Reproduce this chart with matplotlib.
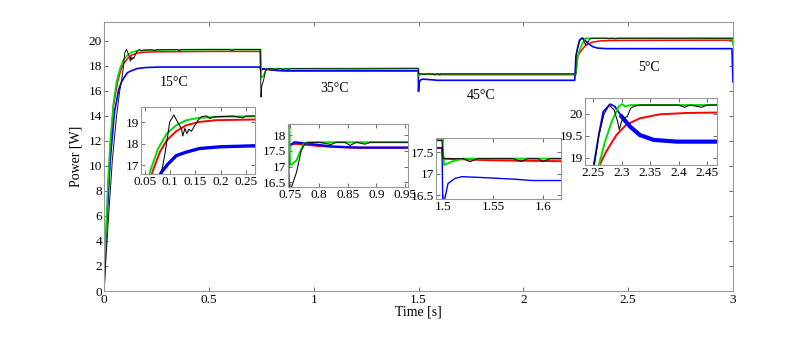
import matplotlib
matplotlib.use("Agg")
import matplotlib.pyplot as plt

plt.rcParams['font.family'] = ['Liberation Serif', 'DejaVu Serif']

# ---- data (time [s], power [W]) ----
green_t = [0, 0.01, 0.02, 0.03, 0.045, 0.06, 0.076, 0.093, 0.112, 0.132, 0.158, 0.2, 0.267, 0.5, 0.745,
           0.7475, 0.7495, 0.755, 0.761, 0.767, 0.774, 0.781, 1.0, 1.499,
           1.4995, 1.501, 1.51, 1.52, 1.8, 2.25,
           2.2595, 2.271, 2.283, 2.295, 2.301, 2.307, 2.316, 2.5, 2.995, 3.0]
green_p = [0, 5, 9, 12, 15, 16.72, 17.78, 18.47, 18.86, 19.09, 19.2, 19.25, 19.27, 19.3, 19.3,
           19.3, 17.04, 17.1, 17.2, 17.47, 17.73, 17.77, 17.77, 17.8,
           17.8, 17.2, 17.29, 17.35, 17.35, 17.35,
           18.8, 19.37, 19.83, 20.17, 20.22, 20.17, 20.2, 20.2, 20.2, 19.7]

red_t = [0, 0.01, 0.02, 0.03, 0.045, 0.065, 0.0795, 0.093, 0.112, 0.132, 0.158, 0.191, 0.267, 0.5, 0.745,
         0.747, 0.76, 0.8, 0.85, 1.0, 1.499,
         1.5, 1.55, 1.618, 2.25,
         2.26, 2.273, 2.291, 2.308, 2.332, 2.367, 2.414, 2.467, 3.0]
red_p = [0, 4.5, 8.5, 11.5, 14.8, 16.72, 17.62, 18.16, 18.58, 18.86, 19.01, 19.09, 19.12, 19.15, 19.15,
         17.7, 17.72, 17.65, 17.6, 17.6, 17.6,
         17.35, 17.31, 17.29, 17.29,
         18.8, 19.14, 19.52, 19.75, 19.9, 19.99, 20.02, 20.03, 20.05]

blue_t = [0, 0.015, 0.03, 0.05, 0.07, 0.083, 0.095, 0.112, 0.13, 0.158, 0.2, 0.26, 0.745,
          0.747, 0.757, 0.78, 0.82, 0.87, 1.499,
          1.5, 1.502, 1.505, 1.512, 1.519, 1.539, 1.572, 1.589, 1.615, 2.245,
          2.251, 2.26, 2.268, 2.28, 2.288, 2.3, 2.315, 2.332, 2.356, 2.397, 2.467, 2.995, 3.0]
blue_p = [1, 6, 10.5, 14.3, 16.1, 16.7, 17.05, 17.45, 17.6, 17.78, 17.86, 17.9, 17.9,
          17.63, 17.77, 17.73, 17.64, 17.6, 17.6,
          15.95, 16.44, 16.77, 16.89, 16.93, 16.91, 16.87, 16.84, 16.84, 16.84,
          18.8, 19.52, 20.05, 20.22, 20.17, 19.94, 19.71, 19.52, 19.41, 19.37, 19.37, 19.37, 16.7]

black_t = [0, 0.02, 0.04, 0.06, 0.075, 0.083, 0.09, 0.099, 0.107, 0.118, 0.122, 0.125, 0.129, 0.133,
           0.137, 0.142, 0.147, 0.155, 0.162, 0.172, 0.178, 0.188, 0.224, 0.244, 0.25, 0.35, 0.36,
           0.37, 0.6, 0.61, 0.62, 0.745,
           0.749, 0.752, 0.761, 0.769, 0.776, 0.8, 0.821, 0.83, 0.845, 0.854, 0.865, 0.88, 0.89,
           1.0, 1.2, 1.499,
           1.5, 1.52, 1.527, 1.535, 1.57, 1.578, 1.585, 1.595, 1.6, 1.607, 2.25,
           2.2518, 2.2605, 2.269, 2.278, 2.287, 2.293, 2.296, 2.3, 2.303, 2.31, 2.316, 2.322, 2.332,
           2.4, 2.41, 2.42, 2.44, 2.45, 3.0]
black_p = [0, 5.5, 10.5, 14, 16, 16.72, 17.6, 19.01, 19.33, 18.86, 18.71, 18.36, 18.71, 18.47,
           18.67, 18.58, 18.78, 19.09, 19.25, 19.29, 19.17, 19.25, 19.28, 19.2, 19.28, 19.3, 19.2,
           19.3, 19.3, 19.22, 19.3, 19.3,
           15.5, 16.34, 16.83, 17.5, 17.75, 17.77, 17.7, 17.77, 17.77, 17.67, 17.77, 17.71, 17.77,
           17.77, 17.75, 17.77,
           17.35, 17.35, 17.28, 17.35, 17.35, 17.28, 17.35, 17.35, 17.28, 17.35, 17.35,
           18.8, 19.52, 19.98, 20.2, 20.09, 19.83, 19.64, 19.83, 19.9, 19.94, 20.13, 20.17, 20.2,
           20.2, 20.15, 20.2, 20.15, 20.2, 20.2]

temp_labels = ['15°C', '35°C', '45°C', '5°C']
temp_pos = [(0.334, 16.7), (1.10, 16.2), (1.80, 15.6), (2.60, 17.9)]

W, H = 808, 341
GRAY = '#999999'


def px_axes(fig, l, t, r, b):
    return fig.add_axes([l / W, 1 - b / H, (r - l) / W, (b - t) / H])


def style(ax, fs, pad_x, pad_y):
    for s in ax.spines.values():
        s.set_color(GRAY)
        s.set_linewidth(0.8)
    ax.tick_params(direction='in', top=True, right=True, length=3, width=0.6,
                   color='#555555', labelsize=fs)
    ax.tick_params(axis='x', pad=pad_x)
    ax.tick_params(axis='y', pad=pad_y)


def draw(ax, lw_g, lw_r, lw_b, lw_k, blue_thick_from=None):
    ax.plot(red_t, red_p, color='#ff0000', lw=lw_r)
    if blue_thick_from is None:
        ax.plot(blue_t, blue_p, color='#0000ff', lw=lw_b)
    else:
        # thin during the transient, thick (ripple) once settled
        ax.plot(blue_t, blue_p, color='#0000ff', lw=1.3)
        i0 = next(i for i, t in enumerate(blue_t) if t >= blue_thick_from)
        ax.plot(blue_t[i0:], blue_p[i0:], color='#0000ff', lw=lw_b)
    ax.plot(green_t, green_p, color='#00dd00', lw=lw_g)
    ax.plot(black_t, black_p, color='#111111', lw=lw_k)


fig = plt.figure(figsize=(W / 100, H / 100), dpi=100)

ax = px_axes(fig, 104, 22, 733, 291)
draw(ax, 1.2, 1.1, 1.2, 0.7)
ax.set_xlim(0, 3)
ax.set_ylim(0, 21.5)
ax.set_xticks([0, 0.5, 1, 1.5, 2, 2.5, 3])
ax.set_xticklabels(['0', '0.5', '1', '1.5', '2', '2.5', '3'])
ax.set_yticks(range(0, 21, 2))
style(ax, 9.5, 2.5, 1.5)
ax.set_xlabel('Time [s]', fontsize=10, labelpad=-1)
ax.set_ylabel('Power [W]', fontsize=10, labelpad=4)
for lab, (x, y) in zip(temp_labels, temp_pos):
    ax.text(x, y, lab, fontsize=10, ha='center', va='center')

# insets
insets = [
    ((141, 107, 255, 174), (0.042, 0.268), (16.6, 19.7),
     [0.05, 0.1, 0.15, 0.2, 0.25], ['0.05', '0.1', '0.15', '0.2', '0.25'], [17, 18, 19], ['17', '18', '19'],
     2.4, None),
    ((288, 124, 408, 187), (0.746, 0.955), (16.35, 18.35),
     [0.75, 0.8, 0.85, 0.9, 0.95], ['0.75', '0.8', '0.85', '0.9', '0.95'],
     [16.5, 17, 17.5, 18], ['16.5', '17', '17.5', '18'], 1.6, None),
    ((436, 138, 561, 199), (1.493, 1.618), (16.41, 17.83),
     [1.5, 1.55, 1.6], ['1.5', '1.55', '1.6'], [16.5, 17, 17.5], ['16.5', '17', '17.5'], 1.0, None),
    ((585, 98, 717, 165), (2.236, 2.467), (18.84, 20.36),
     [2.25, 2.3, 2.35, 2.4, 2.45], ['2.25', '2.3', '2.35', '2.4', '2.45'],
     [19, 19.5, 20], ['19', '19.5', '20'], 3.0, 2.3),
]
for box, xl, yl, xt, xtl, yt, ytl, lwb, thick_from in insets:
    ia = px_axes(fig, *box)
    ia.set_facecolor('white')
    draw(ia, 1.4, 1.4, lwb, 0.8, thick_from)
    ia.set_xlim(*xl)
    ia.set_ylim(*yl)
    ia.set_xticks(xt)
    ia.set_xticklabels(xtl)
    ia.set_yticks(yt)
    ia.set_yticklabels(ytl)
    style(ia, 9.5, 1.5, 1.5)

fig.savefig('out.png', dpi=100)
